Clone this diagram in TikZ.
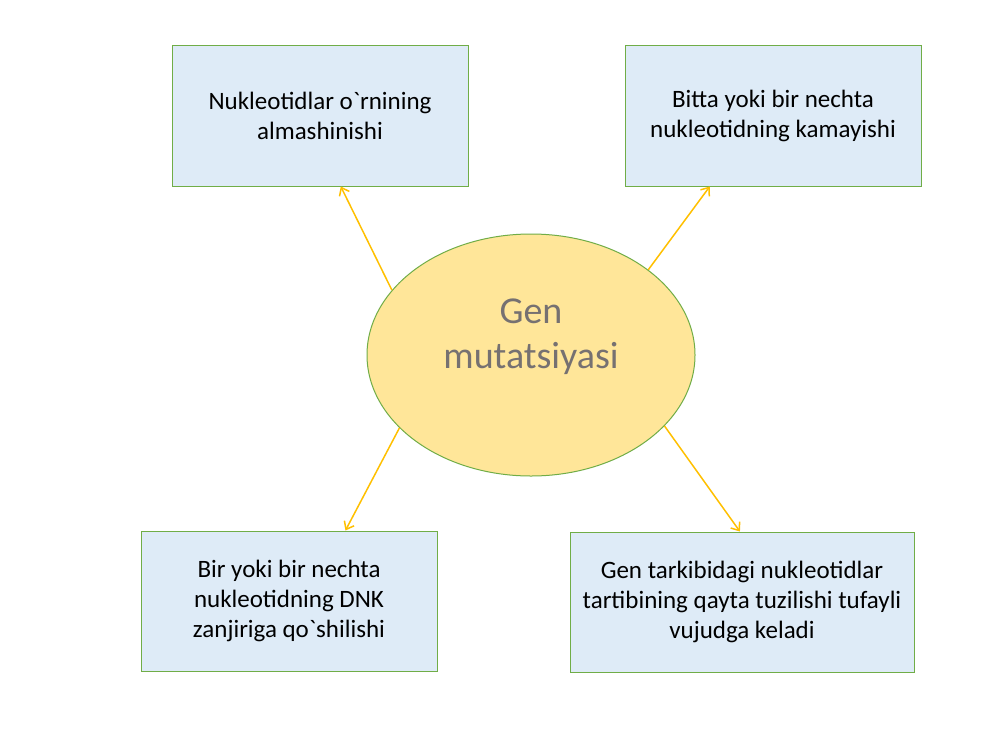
\documentclass[tikz,border=0pt]{standalone}
\usepackage{fontspec}
\setmainfont{Carlito}
\usetikzlibrary{shapes.geometric,arrows.meta,calc}
\definecolor{boxfill}{HTML}{DEEBF7}
\definecolor{boxline}{HTML}{70AD47}
\definecolor{ellfill}{HTML}{FFE699}
\definecolor{arrcol}{HTML}{FFC000}
\definecolor{elltext}{HTML}{767171}
\tikzset{
  infobox/.style={draw=boxline, fill=boxfill, line width=1pt, align=center,
    font=\fontsize{25}{30}\selectfont, text=black, inner sep=0pt},
  linkarrow/.style={draw=arrcol, line width=1.5pt, -{Straight Barb[length=7pt,width=11pt]}}
}
\begin{document}
\begin{tikzpicture}[x=1pt,y=-1pt]
\path[use as bounding box, fill=white] (0,0) rectangle (1000,750);
\node[infobox, minimum width=296pt, minimum height=141pt] (tl) at (320,115.5) {Nukleotidlar o\textasciigrave rnining\\almashinishi};
\node[infobox, minimum width=296pt, minimum height=141pt] (tr) at (773,115.5) {Bitta yoki bir nechta\\nukleotidning kamayishi};
\node[infobox, minimum width=296pt, minimum height=140pt] (bl) at (289,601) {Bir yoki bir nechta\\nukleotidning DNK\\zanjiriga qo\textasciigrave shilishi};
\node[infobox, minimum width=344pt, minimum height=140pt] (br) at (742,602) {Gen tarkibidagi nukleotidlar\\tartibining qayta tuzilishi tufayli\\vujudga keladi};
\node[ellipse, draw=boxline, fill=ellfill, line width=1pt, minimum width=328pt, minimum height=242pt, inner sep=0pt] (e) at (531,355) {};
\node[align=center, text=elltext, font=\fontsize{38}{45}\selectfont] (et) at (531,337) {Gen\\mutatsiyasi};
\draw[linkarrow] (e.155) -- ($(tl.south west)!0.57!(tl.south east)$);
\draw[linkarrow] (e.36) -- ($(tr.south west)!0.287!(tr.south east)$);
\draw[linkarrow] (e.209) -- ($(bl.north west)!0.69!(bl.north east)$);
\draw[linkarrow] (e.332) -- ($(br.north west)!0.494!(br.north east)$);
\end{tikzpicture}
\end{document}
